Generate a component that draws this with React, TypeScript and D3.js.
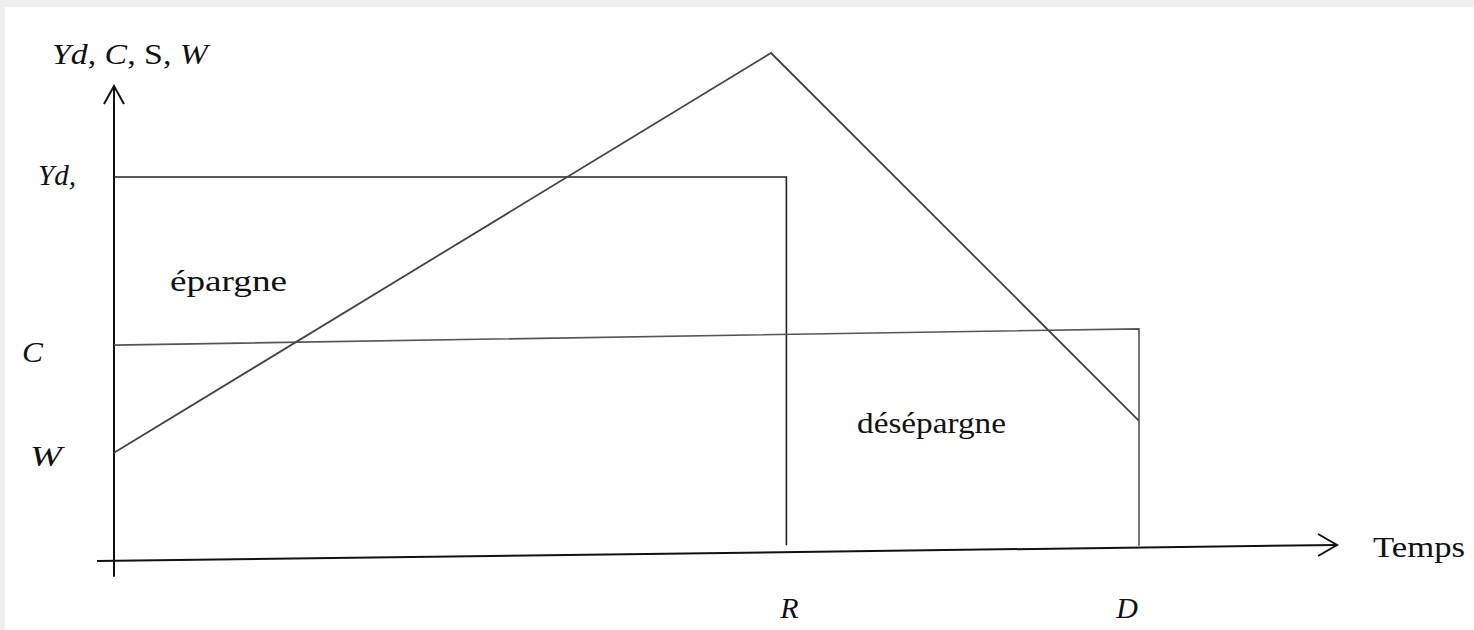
import React, { useEffect } from "react";
import * as d3 from "d3";

// ---- data (model units) ----
const timeDomain = [0, 60];
const valueDomain = [0, 100];
const retirementT = 32.8;
const deathT = 50;
const incomeYd = [
  { t: 0, v: 75.6 },
  { t: 32.8, v: 75.6 },
  { t: 32.8, v: 3.1 },
];
const consumptionC = [
  { t: 0, v: 42.5 },
  { t: 50, v: 45.7 },
  { t: 50, v: 3.0 },
];
const wealthW = [
  { t: 0, v: 21.3 },
  { t: 32.05, v: 100 },
  { t: 50, v: 27.6 },
];
const timeAxis = [
  { t: -0.83, v: 0 },
  { t: 59.66, v: 3.15 },
];
const valueAxis = [
  { t: 0, v: -3.1 },
  { t: 0, v: 93.5 },
];
const tickLabelsX = ["R", "D"];
const areaLabels = ["épargne", "désépargne"];

const W = 1474;
const H = 630;

export default function App() {
  useEffect(() => {
    document.body.style.margin = "0";
  }, []);

  const x = d3.scaleLinear().domain(timeDomain).range([114, 114 + 60 * 20.5]);
  const y = d3.scaleLinear().domain(valueDomain).range([561, 53]);
  const line = d3
    .line<{ t: number; v: number }>()
    .x((d) => x(d.t))
    .y((d) => y(d.v));

  const font = "'Liberation Serif', 'Times New Roman', serif";

  const xa0 = x(timeAxis[1].t);
  const ya0 = y(timeAxis[1].v);
  const ytop = y(valueAxis[1].v);
  const xv = x(0);

  return (
    <svg width={W} height={H} style={{ display: "block" }} fontFamily={font}>
      <rect x={0} y={0} width={W} height={H} fill="#efefef" />
      <rect x={5} y={7} width={W - 5} height={H - 7} fill="#ffffff" />

      {/* axes */}
      <path d={line(valueAxis) || ""} stroke="#111" strokeWidth={2} fill="none" />
      <path
        d={`M${xv - 10},${ytop + 18} L${xv},${ytop} L${xv + 10},${ytop + 18}`}
        stroke="#111"
        strokeWidth={2}
        fill="none"
      />
      <path d={line(timeAxis) || ""} stroke="#111" strokeWidth={2} fill="none" />
      <path
        d={`M${xa0 - 19},${ya0 - 11} L${xa0},${ya0} L${xa0 - 19},${ya0 + 11}`}
        stroke="#111"
        strokeWidth={2}
        fill="none"
      />

      {/* series */}
      <path d={line(incomeYd) || ""} stroke="#222" strokeWidth={1.6} fill="none" />
      <path d={line(consumptionC) || ""} stroke="#555" strokeWidth={1.6} fill="none" />
      <path d={line(wealthW) || ""} stroke="#444" strokeWidth={1.8} fill="none" />

      {/* labels */}
      <text x={52} y={64} fontSize={30} fill="#111" textLength={156} lengthAdjust="spacingAndGlyphs">
        <tspan fontStyle="italic">Yd</tspan>, <tspan fontStyle="italic">C</tspan>, S,{" "}
        <tspan fontStyle="italic">W</tspan>
      </text>
      <text x={38} y={185} fontSize={30} fill="#111" fontStyle="italic" textLength={38} lengthAdjust="spacingAndGlyphs">
        Yd,
      </text>
      <text x={22} y={362} fontSize={30} fill="#111" fontStyle="italic" textLength={21} lengthAdjust="spacingAndGlyphs">
        C
      </text>
      <text x={30} y={466} fontSize={30} fill="#111" fontStyle="italic" textLength={32} lengthAdjust="spacingAndGlyphs">
        W
      </text>
      <text x={170} y={291} fontSize={30} fill="#111" textLength={117} lengthAdjust="spacingAndGlyphs">
        {areaLabels[0]}
      </text>
      <text x={857} y={433} fontSize={30} fill="#111" textLength={149} lengthAdjust="spacingAndGlyphs">
        {areaLabels[1]}
      </text>
      <text x={1373} y={557} fontSize={30} fill="#111" textLength={92} lengthAdjust="spacingAndGlyphs">
        Temps
      </text>
      <text x={x(retirementT) + 3} y={618} fontSize={30} fill="#111" fontStyle="italic" textAnchor="middle">
        {tickLabelsX[0]}
      </text>
      <text x={x(deathT) - 12} y={618} fontSize={30} fill="#111" fontStyle="italic" textAnchor="middle">
        {tickLabelsX[1]}
      </text>
    </svg>
  );
}
